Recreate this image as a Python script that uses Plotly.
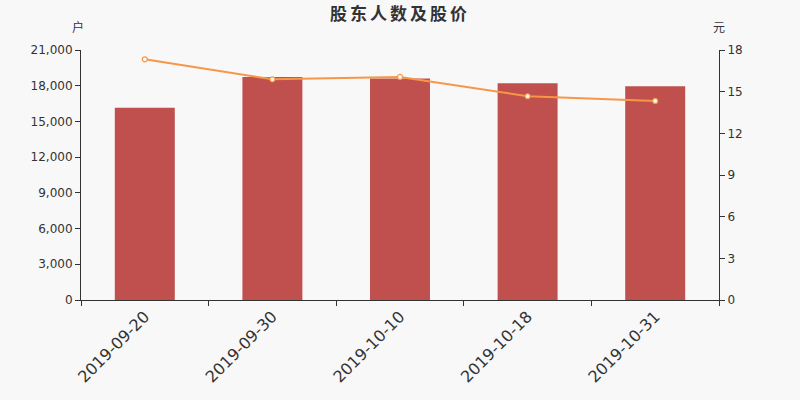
import plotly.graph_objects as go

dates = ["2019-09-20", "2019-09-30", "2019-10-10", "2019-10-18", "2019-10-31"]
holders = [16150, 18730, 18610, 18200, 17950]
prices = [17.33, 15.89, 16.06, 14.67, 14.33]
left_ticks = [0, 3000, 6000, 9000, 12000, 15000, 18000, 21000]
right_ticks = [0, 3, 6, 9, 12, 15, 18]

FONT = "DejaVu Sans, Noto Sans CJK SC, sans-serif"

fig = go.Figure()
fig.add_trace(go.Bar(x=dates, y=holders, marker=dict(color="#c0504d", line=dict(width=0)),
                     name="股东人数", yaxis="y"))
fig.add_trace(go.Scatter(x=dates, y=prices, mode="lines+markers", name="股价", yaxis="y2",
                         line=dict(color="#f79646", width=2),
                         marker=dict(size=5, color="#ffffff", line=dict(color="#f79646", width=1.2))))

fig.update_layout(
    width=800, height=400,
    paper_bgcolor="#f8f8f8", plot_bgcolor="#f8f8f8",
    margin=dict(l=81, r=81, t=50, b=100),
    showlegend=False,
    bargap=0.53,
    font=dict(family=FONT, color="#333333", size=12),
    title=dict(text="<b>股东人数及股价</b>", x=0.5, xanchor="center", y=1 - 14 / 400, yanchor="middle",
               font=dict(size=17, color="#333333", family="Noto Sans CJK SC, sans-serif")),
    xaxis=dict(type="category", tickson="boundaries", ticks="outside", ticklen=5,
               tickcolor="#333333", showline=True, linecolor="#333333", linewidth=1,
               showgrid=False, tickangle=-45, tickfont=dict(size=16, color="#333333")),
    yaxis=dict(range=[0, 21000], tickvals=left_ticks, tickformat=",d", ticks="outside",
               ticklen=5, tickcolor="#333333", showline=True, linecolor="#333333",
               showgrid=False, zeroline=False, tickfont=dict(size=12, color="#333333")),
    yaxis2=dict(range=[0, 18], tickvals=right_ticks, overlaying="y", side="right",
                ticks="outside", ticklen=5, tickcolor="#333333", showline=True,
                linecolor="#333333", showgrid=False, zeroline=False,
                tickfont=dict(size=12, color="#333333")),
    annotations=[
        dict(text="户", xref="paper", yref="paper", x=-0.005, y=1.088, xanchor="center",
             yanchor="middle", showarrow=False, font=dict(size=12, color="#333333")),
        dict(text="元", xref="paper", yref="paper", x=1.0, y=1.088, xanchor="center",
             yanchor="middle", showarrow=False, font=dict(size=12, color="#333333")),
    ],
)

fig.write_html(
    "out.html",
    config={"displayModeBar": False},
    post_script=(
        "document.body.style.margin='0';"
        "document.body.style.background='#f8f8f8';"
        "var t=document.querySelector('.gtitle');if(t){t.style.letterSpacing='3px';}"
    ),
)
